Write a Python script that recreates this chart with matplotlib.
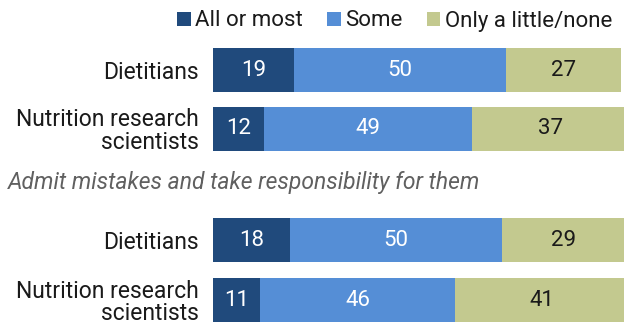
import matplotlib.pyplot as plt
from matplotlib.patches import Patch

plt.rcParams['font.family'] = ['Roboto', 'DejaVu Sans']

groups = ["Dietitians", "Nutrition research\nscientists",
          "Dietitians", "Nutrition research\nscientists"]
all_or_most = [19, 12, 18, 11]
some = [50, 49, 50, 46]
little_none = [27, 37, 29, 41]
series_names = ["All or most", "Some", "Only a little/none"]
subtitle = "Admit mistakes and take responsibility for them"

colors = ["#204a7c", "#558ed6", "#c3c98f"]
text_colors = ["white", "white", "#1a1a1a"]

W, H = 624, 324
fig = plt.figure(figsize=(W / 100, H / 100), dpi=100)

# axes in pixel-like units: x data 0..100 spans 213px..638px
ax = fig.add_axes([213 / W, 0, 425 / W, 1])
ax.set_xlim(0, 100)
ax.set_ylim(H, 0)

centers = [70, 129, 240, 300]
bar_h = 44

left = [0] * 4
for vals, c, tc in zip([all_or_most, some, little_none], colors, text_colors):
    bars = ax.barh(centers, vals, left=left, height=bar_h, color=c,
                   edgecolor="none")
    for b, v in zip(bars, vals):
        ax.text(b.get_x() + b.get_width() / 2, b.get_y() + b.get_height() / 2,
                str(v), ha="center", va="center", color=tc, fontsize=16)
    left = [l + v for l, v in zip(left, vals)]

ax.set_yticks(centers, groups)
ax.tick_params(axis="y", length=0, pad=10, labelsize=16.5, labelcolor="#1a1a1a")
ax.tick_params(axis="x", length=0, labelbottom=False)
for lbl in ax.get_yticklabels():
    lbl.set_linespacing(0.98)
for s in ax.spines.values():
    s.set_visible(False)

fig.text(8 / W, 1 - 182 / H, subtitle, fontsize=16.5, style="italic",
         color="#606060", ha="left", va="center")

handles = [Patch(facecolor=c, edgecolor="none") for c in colors]
fig.legend(handles, series_names, loc="center right", ncol=3,
           bbox_to_anchor=(612 / W, 1 - 21 / H), frameon=False,
           fontsize=16, handlelength=0.6, handleheight=0.6,
           handletextpad=0.2, columnspacing=1.1, borderaxespad=0,
           borderpad=0, labelcolor="#1a1a1a")

fig.savefig("out.png", dpi=100)
